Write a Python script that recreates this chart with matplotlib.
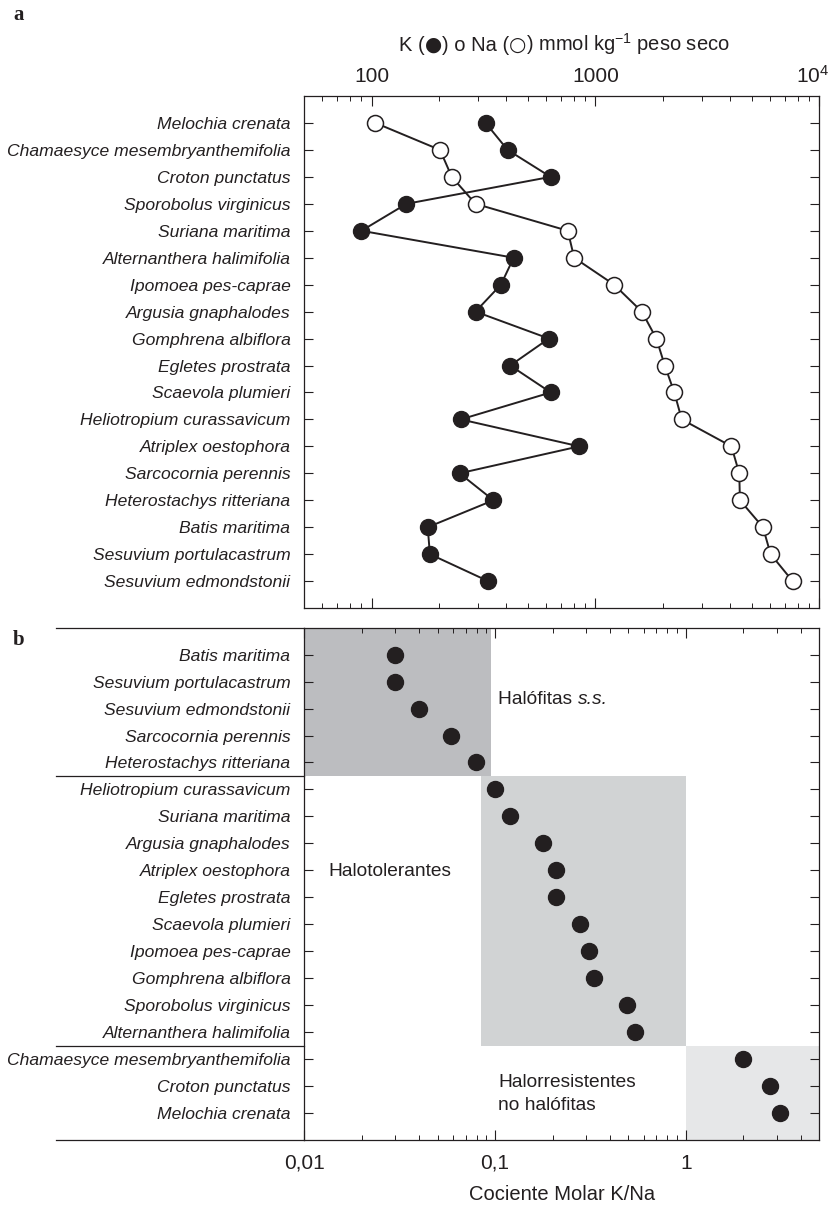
import matplotlib
matplotlib.use("Agg")
import matplotlib.pyplot as plt
from matplotlib.ticker import LogLocator, FixedLocator, FixedFormatter, NullFormatter
import matplotlib.transforms as mtransforms

plt.rcParams["font.family"] = ["Liberation Sans", "DejaVu Sans"]
plt.rcParams["mathtext.fontset"] = "custom"
plt.rcParams["mathtext.rm"] = "Liberation Sans"
plt.rcParams["mathtext.it"] = "Liberation Sans:italic"

INK = "#231f20"

# panel a: K and Na content (mmol kg-1 dry weight)
species_a = ["Melochia crenata", "Chamaesyce mesembryanthemifolia", "Croton punctatus",
             "Sporobolus virginicus", "Suriana maritima", "Alternanthera halimifolia",
             "Ipomoea pes-caprae", "Argusia gnaphalodes", "Gomphrena albiflora",
             "Egletes prostrata", "Scaevola plumieri", "Heliotropium curassavicum",
             "Atriplex oestophora", "Sarcocornia perennis", "Heterostachys ritteriana",
             "Batis maritima", "Sesuvium portulacastrum", "Sesuvium edmondstonii"]
k_vals = [323, 405, 630, 143, 90, 431, 378, 291, 619, 416, 631, 250, 846, 247, 350, 178, 182, 331]
na_vals = [104, 202, 228, 291, 752, 803, 1211, 1611, 1871, 2040, 2250, 2430, 4050, 4390, 4420,
           5600, 6060, 7600]

# panel b: K/Na molar ratio
species_b = ["Batis maritima", "Sesuvium portulacastrum", "Sesuvium edmondstonii",
             "Sarcocornia perennis", "Heterostachys ritteriana", "Heliotropium curassavicum",
             "Suriana maritima", "Argusia gnaphalodes", "Atriplex oestophora",
             "Egletes prostrata", "Scaevola plumieri", "Ipomoea pes-caprae",
             "Gomphrena albiflora", "Sporobolus virginicus", "Alternanthera halimifolia",
             "Chamaesyce mesembryanthemifolia", "Croton punctatus", "Melochia crenata"]
ratio_vals = [0.030, 0.030, 0.040, 0.059, 0.079, 0.100, 0.119, 0.178, 0.208, 0.208,
              0.278, 0.310, 0.329, 0.49, 0.54, 1.99, 2.76, 3.1]

fig = plt.figure(figsize=(8.31, 12.11), dpi=100)
ax1 = fig.add_axes([0.3662, 0.4979, 0.6197, 0.4228])
ax2 = fig.add_axes([0.3662, 0.0586, 0.6197, 0.4231])

lab_fs = 12.6
tick_fs = 15
big_fs = 14.5


def style_axis(ax):
    for sp in ax.spines.values():
        sp.set_linewidth(0.9)
        sp.set_color(INK)
    ax.tick_params(axis="y", which="both", direction="in", left=True, right=True,
                   length=6.5, width=0.8, color=INK, pad=10)
    ax.tick_params(axis="x", which="major", direction="in", top=True, bottom=True,
                   length=7.5, width=0.8, color=INK)
    ax.tick_params(axis="x", which="minor", direction="in", top=True, bottom=True,
                   length=3.8, width=0.7, color=INK)
    for lbl in ax.get_yticklabels():
        lbl.set_fontstyle("italic")
        lbl.set_fontsize(lab_fs)
        lbl.set_color(INK)


# ---- panel a
rows_a = list(range(len(species_a)))
ax1.plot(k_vals, rows_a, "-o", color=INK, lw=1.4, ms=11.5, mfc=INK, mec=INK, mew=1, zorder=3)
ax1.plot(na_vals, rows_a, "-o", color=INK, lw=1.4, ms=11.5, mfc="white", mec=INK, mew=1.1, zorder=3)
ax1.set_xscale("log")
ax1.set_xlim(50, 1e4)
ax1.set_ylim(len(species_a), -1)
ax1.set_yticks(rows_a)
ax1.set_yticklabels(species_a)
ax1.xaxis.set_major_locator(FixedLocator([100, 1000, 10000]))
ax1.xaxis.set_major_formatter(FixedFormatter(["100", "1000", r"$10^4$"]))
ax1.xaxis.set_minor_locator(LogLocator(base=10, subs=range(2, 10)))
ax1.xaxis.set_minor_formatter(NullFormatter())
style_axis(ax1)
ax1.tick_params(axis="x", which="both", labeltop=True, labelbottom=False,
                labelsize=tick_fs, pad=7, labelcolor=INK)

# ---- panel b
rows_b = list(range(len(species_b)))
ax2.set_xscale("log")
ax2.set_xlim(0.01, 5)
ax2.set_ylim(len(species_b), -1)
ax2.axvspan(0.01, 0.0948, ymin=(18 - 4.5) / 19, ymax=1, color="#bcbdc0", lw=0, zorder=0)
ax2.axvspan(0.0846, 1.0, ymin=(18 - 14.5) / 19, ymax=(18 - 4.5) / 19, color="#d1d3d4", lw=0, zorder=0)
ax2.axvspan(1.0, 5, ymin=0, ymax=(18 - 14.5) / 19, color="#e6e7e8", lw=0, zorder=0)
ax2.plot(ratio_vals, rows_b, "o", color=INK, ms=11.5, mec=INK, mew=1, zorder=3)
ax2.set_yticks(rows_b)
ax2.set_yticklabels(species_b)
ax2.xaxis.set_major_locator(FixedLocator([0.01, 0.1, 1]))
ax2.xaxis.set_major_formatter(FixedFormatter(["0,01", "0,1", "1"]))
ax2.xaxis.set_minor_locator(LogLocator(base=10, subs=range(2, 10)))
ax2.xaxis.set_minor_formatter(NullFormatter())
style_axis(ax2)
ax2.tick_params(axis="x", which="both", labelsize=tick_fs, pad=10, labelcolor=INK)

# group separators extending under the labels
trans = mtransforms.blended_transform_factory(ax2.transAxes, ax2.transData)
for yy in [-1, 4.5, 14.5, 18]:
    ax2.plot([-0.482, 0], [yy, yy], color=INK, lw=0.9, transform=trans, clip_on=False)

grp_fs = 13.8
t1 = ax2.text(0.1036, 1.68, "Halófitas ", fontsize=grp_fs, color=INK, va="center", ha="left")
ax2.annotate("s.s.", xy=(1, 0), xycoords=t1, va="bottom", ha="left",
             fontsize=grp_fs, fontstyle="italic", color=INK)
ax2.text(0.0133, 8.06, "Halotolerantes", fontsize=grp_fs, color=INK, va="center", ha="left")
ax2.text(0.1036, 16.3, "Halorresistentes\nno halófitas", fontsize=grp_fs, color=INK,
         va="center", ha="left", linespacing=1.5)

# keep 10^4 inside the figure
fig.canvas.draw()
last = ax1.xaxis.get_majorticklabels()[-1]
last.set_horizontalalignment("right")
last.set_transform(last.get_transform() + mtransforms.ScaledTranslation(7 / 72, 0, fig.dpi_scale_trans))

# title built in pieces so the circle symbols come out full size
renderer = fig.canvas.get_renderer()
pieces = [("K (", None), ("●", "DejaVu Sans"), (") o Na (", None), ("○", "DejaVu Sans"),
          (") mmol kg$^{-1}$ peso seco", None)]
x_px = 399
y_px = 1211 - 51
for txt, fam in pieces:
    kw = dict(fontsize=big_fs, color=INK, ha="left", va="baseline",
              transform=None)
    if fam:
        kw["family"] = fam
        kw["fontsize"] = big_fs * 0.98
    t = fig.text(x_px, y_px, txt, **kw)
    x_px = t.get_window_extent(renderer).x1

fig.text(0.676, 1 - 1195 / 1211, "Cociente Molar K/Na",
         fontsize=big_fs, color=INK, ha="center", va="center")
fig.text(13 / 831, 1 - 15 / 1211, "a", family="Liberation Serif", weight="bold",
         fontsize=15, color=INK, ha="left", va="center")
fig.text(13 / 831, 1 - 640 / 1211, "b", family="Liberation Serif", weight="bold",
         fontsize=15, color=INK, ha="left", va="center")

fig.savefig("out.png", dpi=100)
